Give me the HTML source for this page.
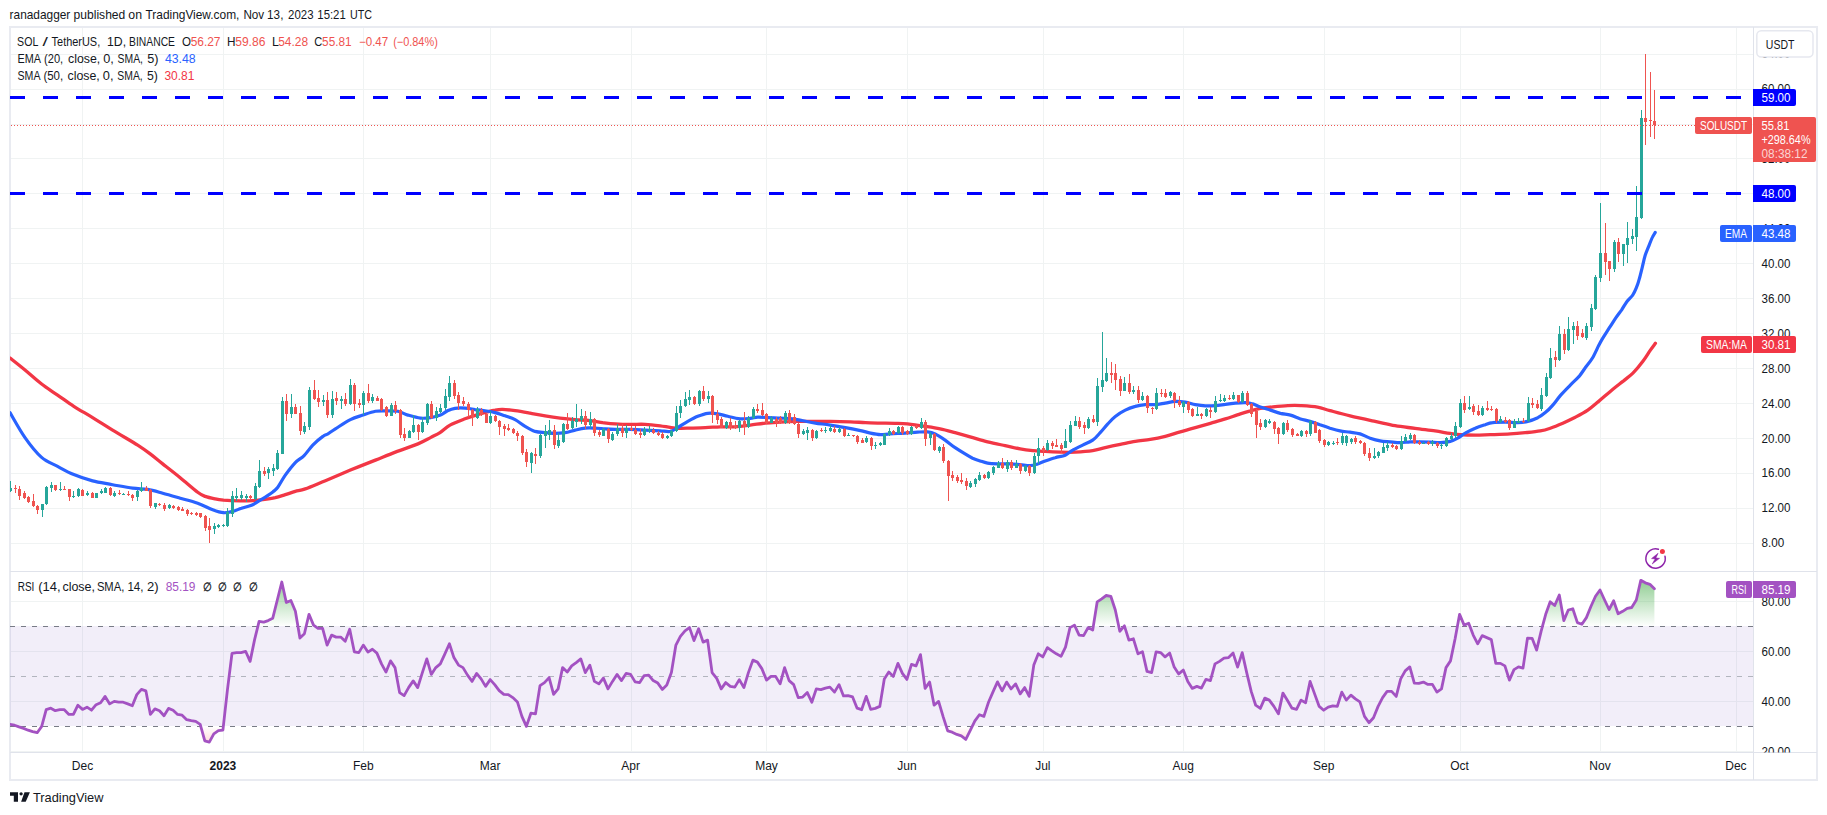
<!DOCTYPE html>
<html><head><meta charset="utf-8"><title>SOL / TetherUS chart</title><style>html,body{margin:0;padding:0;background:#fff}svg{display:block}</style></head><body>
<svg width="1827" height="815" viewBox="0 0 1827 815" font-family="Liberation Sans, Arial, sans-serif">
<defs>
<linearGradient id="gob" gradientUnits="userSpaceOnUse" x1="0" y1="551.5" x2="0" y2="626.5"><stop offset="0" stop-color="#4caf50" stop-opacity="1"/><stop offset="1" stop-color="#4caf50" stop-opacity="0"/></linearGradient>
<linearGradient id="gos" gradientUnits="userSpaceOnUse" x1="0" y1="726.5" x2="0" y2="801.5"><stop offset="0" stop-color="#ff5252" stop-opacity="0"/><stop offset="1" stop-color="#ff5252" stop-opacity="1"/></linearGradient>
<clipPath id="cp"><rect x="10" y="28" width="1743" height="543.5"/></clipPath>
<clipPath id="cr"><rect x="10" y="572.0" width="1743" height="180.0"/></clipPath>
<clipPath id="cax"><rect x="1754" y="28" width="63" height="724.5"/></clipPath>
</defs>
<rect width="1827" height="815" fill="#fff"/>
<text y="19" font-size="13" fill="#131722">
<tspan x="9.6" textLength="60.7" lengthAdjust="spacingAndGlyphs">ranadagger</tspan>
<tspan x="73.6" textLength="51.7" lengthAdjust="spacingAndGlyphs">published</tspan>
<tspan x="128.3" textLength="13.7" lengthAdjust="spacingAndGlyphs">on</tspan>
<tspan x="145.5" textLength="93.9" lengthAdjust="spacingAndGlyphs">TradingView.com,</tspan>
<tspan x="243.4" textLength="20.8" lengthAdjust="spacingAndGlyphs">Nov</tspan>
<tspan x="267.1" textLength="16.3" lengthAdjust="spacingAndGlyphs">13,</tspan>
<tspan x="288.1" textLength="25.4" lengthAdjust="spacingAndGlyphs">2023</tspan>
<tspan x="317.3" textLength="28.5" lengthAdjust="spacingAndGlyphs">15:21</tspan>
<tspan x="350.1" textLength="22.0" lengthAdjust="spacingAndGlyphs">UTC</tspan>
</text>
<g stroke="#f0f3f3" stroke-width="1" shape-rendering="crispEdges">
<line x1="82.5" y1="27" x2="82.5" y2="752.5"/>
<line x1="223.5" y1="27" x2="223.5" y2="752.5"/>
<line x1="363.5" y1="27" x2="363.5" y2="752.5"/>
<line x1="490.5" y1="27" x2="490.5" y2="752.5"/>
<line x1="631.5" y1="27" x2="631.5" y2="752.5"/>
<line x1="766.5" y1="27" x2="766.5" y2="752.5"/>
<line x1="907.5" y1="27" x2="907.5" y2="752.5"/>
<line x1="1043.5" y1="27" x2="1043.5" y2="752.5"/>
<line x1="1183.5" y1="27" x2="1183.5" y2="752.5"/>
<line x1="1324.5" y1="27" x2="1324.5" y2="752.5"/>
<line x1="1460.5" y1="27" x2="1460.5" y2="752.5"/>
<line x1="1600.5" y1="27" x2="1600.5" y2="752.5"/>
<line x1="1736.5" y1="27" x2="1736.5" y2="752.5"/>
<line x1="10" y1="543.5" x2="1753" y2="543.5"/>
<line x1="10" y1="508.5" x2="1753" y2="508.5"/>
<line x1="10" y1="473.5" x2="1753" y2="473.5"/>
<line x1="10" y1="438.5" x2="1753" y2="438.5"/>
<line x1="10" y1="403.5" x2="1753" y2="403.5"/>
<line x1="10" y1="368.5" x2="1753" y2="368.5"/>
<line x1="10" y1="333.5" x2="1753" y2="333.5"/>
<line x1="10" y1="298.5" x2="1753" y2="298.5"/>
<line x1="10" y1="263.5" x2="1753" y2="263.5"/>
<line x1="10" y1="228.5" x2="1753" y2="228.5"/>
<line x1="10" y1="193.5" x2="1753" y2="193.5"/>
<line x1="10" y1="158.5" x2="1753" y2="158.5"/>
<line x1="10" y1="124.5" x2="1753" y2="124.5"/>
<line x1="10" y1="89.5" x2="1753" y2="89.5"/>
<line x1="10" y1="54.5" x2="1753" y2="54.5"/>
<line x1="10" y1="751.5" x2="1753" y2="751.5"/>
<line x1="10" y1="701.5" x2="1753" y2="701.5"/>
<line x1="10" y1="651.5" x2="1753" y2="651.5"/>
<line x1="10" y1="601.5" x2="1753" y2="601.5"/>
</g>
<rect x="10" y="27" width="1807" height="753" fill="none" stroke="#e9ebf1" stroke-width="2" shape-rendering="crispEdges"/>
<g fill="none" stroke="#e0e3eb" shape-rendering="crispEdges">
<line x1="1753.5" y1="27" x2="1753.5" y2="780"/>
<line x1="10" y1="571.5" x2="1817" y2="571.5"/>
<line x1="10" y1="752.5" x2="1817" y2="752.5"/>
</g>
<rect x="10" y="626.0" width="1743" height="100.0" fill="#7e57c2" fill-opacity="0.1"/>
<line x1="10" y1="626.5" x2="1753" y2="626.5" stroke="#787b86" stroke-width="1" stroke-dasharray="5 6" shape-rendering="crispEdges"/>
<line x1="10" y1="676.5" x2="1753" y2="676.5" stroke="#b2b5be" stroke-width="1" stroke-dasharray="5 6" shape-rendering="crispEdges"/>
<line x1="10" y1="726.5" x2="1753" y2="726.5" stroke="#787b86" stroke-width="1" stroke-dasharray="5 6" shape-rendering="crispEdges"/>
<g clip-path="url(#cr)">
<polygon fill="url(#gob)" points="257.9,626.5 259.1,621.3 263.7,622.1 268.2,620.6 272.7,618.3 277.3,600.0 281.8,582.0 286.3,602.5 290.9,600.5 295.4,611.3 298.0,626.5"/>
<polygon fill="url(#gob)" points="306.1,626.5 309.0,614.3 313.5,625.1 315.5,626.5"/>
<polygon fill="url(#gob)" points="1071.9,626.5 1074.5,625.1 1075.2,626.5"/>
<polygon fill="url(#gob)" points="1093.2,626.5 1097.2,601.8 1101.7,598.8 1106.2,595.5 1110.8,596.3 1115.3,610.0 1118.8,626.5"/>
<polygon fill="url(#gob)" points="1123.8,626.5 1124.4,625.8 1124.6,626.5"/>
<polygon fill="url(#gob)" points="1457.3,626.5 1459.6,614.3 1464.1,625.1 1468.7,623.3 1469.9,626.5"/>
<polygon fill="url(#gob)" points="1542.4,626.5 1545.7,614.3 1550.2,601.8 1554.7,605.5 1559.3,595.0 1563.8,620.6 1568.3,610.0 1572.8,608.8 1577.4,622.6 1581.9,624.3 1586.4,617.6 1591.0,606.3 1595.5,596.3 1600.0,590.0 1604.6,600.0 1609.1,609.5 1613.6,600.8 1618.1,613.8 1622.7,611.3 1627.2,608.3 1631.7,607.5 1636.3,600.0 1640.8,580.3 1645.3,582.8 1649.9,584.3 1654.4,588.8 1654.4,626.5"/>
<polygon fill="url(#gos)" points="17.9,726.5 19.0,726.9 23.6,728.4 28.1,730.2 32.6,731.7 37.2,732.7 41.6,726.5"/>
<polygon fill="url(#gos)" points="200.8,726.5 204.8,740.9 209.3,742.2 213.8,733.9 218.4,730.7 222.9,730.2 223.3,726.5"/>
<polygon fill="url(#gos)" points="946.3,726.5 947.7,730.9 952.2,732.2 956.8,734.4 961.3,735.9 965.8,739.4 970.4,730.2 972.2,726.5"/>
<polyline fill="none" stroke="#a352c2" stroke-width="2.8" stroke-linejoin="round" stroke-linecap="round" points="10.0,724.4 14.5,725.2 19.0,726.9 23.6,728.4 28.1,730.2 32.6,731.7 37.2,732.7 41.7,726.4 46.2,709.7 50.8,708.2 55.3,710.7 59.8,709.7 64.3,709.7 68.9,714.4 73.4,714.4 77.9,705.2 82.5,709.4 87.0,707.2 91.5,710.2 96.1,704.7 100.6,702.7 105.1,696.4 109.7,703.9 114.2,701.4 118.7,702.2 123.2,702.2 127.8,703.9 132.3,705.7 136.8,694.6 141.4,689.4 145.9,690.9 150.4,714.4 154.9,708.9 159.5,710.7 164.0,715.7 168.5,708.4 173.1,710.2 177.6,714.4 182.1,715.2 186.7,719.7 191.2,720.7 195.7,721.4 200.2,724.4 204.8,740.9 209.3,742.2 213.8,733.9 218.4,730.7 222.9,730.2 227.4,690.1 232.0,653.3 236.5,652.6 241.0,652.6 245.6,651.3 250.1,661.4 254.6,639.6 259.1,621.3 263.7,622.1 268.2,620.6 272.7,618.3 277.3,600.0 281.8,582.0 286.3,602.5 290.9,600.5 295.4,611.3 299.9,638.1 304.4,633.8 309.0,614.3 313.5,625.1 318.0,628.3 322.6,628.3 327.1,645.1 331.6,635.1 336.1,637.1 340.7,637.1 345.2,641.3 349.7,629.3 354.3,651.8 358.8,652.6 363.3,645.1 367.9,652.1 372.4,649.3 376.9,653.1 381.5,663.9 386.0,672.1 390.5,660.9 395.0,667.6 399.6,692.6 404.1,695.6 408.6,687.6 413.2,680.9 417.7,687.6 422.2,673.1 426.8,658.9 431.3,674.4 435.8,667.6 440.3,663.9 444.9,653.8 449.4,643.8 453.9,657.6 458.5,665.1 463.0,667.6 467.5,675.1 472.1,681.4 476.6,673.4 481.1,678.9 485.6,686.4 490.2,679.6 494.7,684.6 499.2,690.6 503.8,694.4 508.3,694.6 512.8,697.6 517.4,701.9 521.9,716.4 526.4,726.4 530.9,713.2 535.5,713.9 540.0,685.6 544.5,682.6 549.1,677.6 553.6,694.4 558.1,688.9 562.6,667.6 567.2,672.1 571.7,665.9 576.2,662.6 580.8,658.9 585.3,672.6 589.8,665.1 594.4,681.4 598.9,683.9 603.4,678.1 608.0,688.9 612.5,681.4 617.0,674.4 621.5,680.6 626.1,673.4 630.6,674.4 635.1,681.9 639.7,682.6 644.2,675.6 648.7,675.1 653.2,680.6 657.8,683.1 662.3,689.4 666.8,685.1 671.4,672.6 675.9,645.1 680.4,636.3 685.0,630.8 689.5,627.6 694.0,640.6 698.6,628.8 703.1,642.1 707.6,640.1 712.1,672.6 716.7,678.4 721.2,688.9 725.7,682.6 730.3,686.4 734.8,687.1 739.3,679.6 743.9,687.6 748.4,672.6 752.9,660.1 757.4,662.1 762.0,668.9 766.5,680.1 771.0,676.4 775.6,676.4 780.1,683.9 784.6,667.6 789.1,680.6 793.7,684.6 798.2,697.6 802.7,697.1 807.3,692.6 811.8,702.2 816.3,688.9 820.9,689.6 825.4,688.1 829.9,687.1 834.5,692.1 839.0,684.6 843.5,695.9 848.0,695.6 852.6,696.9 857.1,708.2 861.6,709.7 866.2,696.4 870.7,709.4 875.2,708.4 879.8,706.4 884.3,678.9 888.8,672.1 893.3,676.4 897.9,663.4 902.4,673.4 906.9,679.4 911.5,664.4 916.0,665.9 920.5,654.6 925.1,688.4 929.6,682.1 934.1,705.2 938.6,701.4 943.2,716.9 947.7,730.9 952.2,732.2 956.8,734.4 961.3,735.9 965.8,739.4 970.4,730.2 974.9,720.9 979.4,714.7 983.9,716.4 988.5,702.2 993.0,691.9 997.5,681.9 1002.1,690.9 1006.6,682.1 1011.1,688.9 1015.6,683.9 1020.2,693.9 1024.7,687.6 1029.2,696.4 1033.8,665.1 1038.3,653.8 1042.8,656.9 1047.4,647.6 1051.9,650.8 1056.4,653.8 1061.0,656.4 1065.5,647.1 1070.0,627.6 1074.5,625.1 1079.1,635.1 1083.6,635.6 1088.1,627.6 1092.7,630.1 1097.2,601.8 1101.7,598.8 1106.2,595.5 1110.8,596.3 1115.3,610.0 1119.8,631.3 1124.4,625.8 1128.9,640.1 1133.4,638.8 1138.0,653.8 1142.5,651.8 1147.0,671.4 1151.6,672.6 1156.1,651.8 1160.6,652.6 1165.1,656.9 1169.7,653.1 1174.2,667.1 1178.7,673.9 1183.3,670.1 1187.8,681.4 1192.3,688.4 1196.9,686.4 1201.4,688.1 1205.9,679.4 1210.4,680.6 1215.0,663.9 1219.5,661.4 1224.0,658.1 1228.6,657.6 1233.1,653.1 1237.6,667.1 1242.2,652.6 1246.7,672.6 1251.2,691.4 1255.7,705.2 1260.3,708.4 1264.8,698.1 1269.3,700.1 1273.9,706.4 1278.4,713.9 1282.9,693.1 1287.5,700.6 1292.0,708.2 1296.5,709.4 1301.0,700.1 1305.6,702.7 1310.1,681.4 1314.6,693.9 1319.2,706.4 1323.7,710.2 1328.2,707.2 1332.8,705.9 1337.3,706.4 1341.8,692.1 1346.3,700.1 1350.9,695.1 1355.4,698.9 1359.9,701.9 1364.5,716.4 1369.0,722.7 1373.5,717.7 1378.1,706.4 1382.6,697.6 1387.1,691.4 1391.6,691.4 1396.2,696.4 1400.7,678.9 1405.2,670.9 1409.8,666.9 1414.3,683.1 1418.8,683.4 1423.4,682.1 1427.9,684.4 1432.4,684.4 1436.9,692.1 1441.5,688.9 1446.0,667.6 1450.5,660.9 1455.1,638.8 1459.6,614.3 1464.1,625.1 1468.7,623.3 1473.2,635.1 1477.7,643.8 1482.2,635.6 1486.8,637.6 1491.3,639.6 1495.8,663.4 1500.4,663.4 1504.9,665.9 1509.4,680.1 1514.0,669.6 1518.5,666.9 1523.0,668.1 1527.5,638.1 1532.1,638.3 1536.6,650.1 1541.1,631.3 1545.7,614.3 1550.2,601.8 1554.7,605.5 1559.3,595.0 1563.8,620.6 1568.3,610.0 1572.8,608.8 1577.4,622.6 1581.9,624.3 1586.4,617.6 1591.0,606.3 1595.5,596.3 1600.0,590.0 1604.6,600.0 1609.1,609.5 1613.6,600.8 1618.1,613.8 1622.7,611.3 1627.2,608.3 1631.7,607.5 1636.3,600.0 1640.8,580.3 1645.3,582.8 1649.9,584.3 1654.4,588.8"/>
</g>
<g clip-path="url(#cp)" fill="none" stroke-linejoin="round" stroke-linecap="round">
<path stroke="#f23645" stroke-width="3.3" d="M10.0 358.0C12.5 360.0 19.8 365.7 25.0 370.0C30.2 374.3 35.9 379.6 41.3 383.8C46.7 388.0 52.1 391.3 57.6 395.1C63.0 398.8 68.0 402.6 73.8 406.3C79.7 410.1 86.1 413.6 92.6 417.6C99.1 421.5 105.1 425.5 112.6 430.1C120.1 434.7 131.4 441.2 137.7 445.1C143.9 449.1 146.0 450.7 150.2 453.9C154.3 457.0 157.7 459.9 162.7 463.9C167.7 467.8 174.4 472.9 180.2 477.7C186.0 482.4 193.5 489.0 197.7 492.2C201.9 495.3 202.3 495.3 205.2 496.4C208.1 497.5 212.2 498.3 215.2 498.9C218.3 499.6 219.3 499.8 223.5 500.2C227.7 500.5 235.4 500.8 240.3 500.9C245.1 501.0 249.0 500.9 252.8 500.7C256.5 500.5 259.0 500.2 262.8 499.7C266.5 499.2 271.5 498.5 275.3 497.7C279.1 496.8 282.0 495.7 285.3 494.7C288.7 493.6 292.0 492.4 295.3 491.4C298.7 490.5 300.3 490.7 305.3 488.9C310.3 487.1 317.8 483.8 325.4 480.7C332.9 477.5 342.0 473.6 350.4 470.1C358.7 466.7 367.9 463.1 375.4 460.1C382.9 457.1 388.3 454.8 395.4 452.1C402.5 449.4 412.1 446.3 418.0 443.9C423.8 441.4 426.8 439.5 430.5 437.6C434.1 435.7 436.7 434.7 440.0 432.6C443.3 430.5 445.8 427.4 450.0 425.1C454.2 422.8 460.0 420.7 465.0 418.8C470.0 417.0 475.0 415.3 480.0 413.8C485.0 412.4 491.3 410.8 495.1 410.1C498.8 409.3 499.2 409.2 502.6 409.3C505.9 409.4 510.5 410.0 515.1 410.6C519.7 411.2 525.1 412.2 530.1 413.1C535.1 414.0 540.1 415.0 545.1 415.8C550.1 416.7 555.1 417.5 560.1 418.1C565.1 418.7 570.1 419.2 575.1 419.6C580.2 420.0 585.6 420.1 590.2 420.6C594.8 421.1 598.5 422.0 602.7 422.6C606.9 423.1 610.6 423.6 615.2 423.8C619.8 424.1 625.2 424.3 630.2 424.3C635.2 424.4 640.2 424.1 645.2 424.3C650.2 424.6 655.2 425.2 660.2 425.8C665.2 426.5 670.3 427.7 675.3 428.1C680.3 428.5 685.3 428.2 690.3 428.1C695.3 428.0 700.3 427.8 705.3 427.6C710.3 427.4 715.3 427.0 720.3 426.8C725.3 426.7 730.3 427.1 735.3 426.8C740.3 426.6 745.3 425.7 750.3 425.1C755.3 424.5 760.4 423.6 765.4 423.1C770.4 422.6 775.4 422.4 780.4 422.1C785.4 421.8 790.4 421.5 795.4 421.3C800.4 421.2 804.6 421.3 810.4 421.3C816.2 421.3 823.8 421.3 830.4 421.3C837.1 421.4 844.6 421.6 850.5 421.8C856.3 422.0 860.5 422.4 865.5 422.6C870.5 422.8 875.6 423.0 880.5 423.1C885.4 423.2 890.5 423.2 895.0 423.4C899.5 423.5 902.5 423.4 907.5 423.9C912.5 424.4 919.6 425.5 925.0 426.4C930.5 427.2 935.1 427.8 940.1 428.9C945.1 429.9 950.1 431.3 955.1 432.6C960.1 434.0 964.7 435.3 970.1 436.9C975.5 438.4 981.8 440.4 987.6 441.9C993.5 443.4 999.7 444.5 1005.1 445.6C1010.6 446.8 1015.6 448.1 1020.2 448.9C1024.7 449.7 1028.5 450.2 1032.7 450.7C1036.8 451.1 1040.6 451.2 1045.2 451.4C1049.8 451.7 1055.2 452.0 1060.2 452.2C1065.2 452.3 1069.8 452.4 1075.2 452.2C1080.6 451.9 1087.7 451.4 1092.7 450.7C1097.7 449.9 1100.7 448.7 1105.2 447.7C1109.8 446.6 1115.3 445.4 1120.3 444.4C1125.3 443.4 1130.3 442.2 1135.3 441.4C1140.3 440.6 1145.3 440.2 1150.3 439.4C1155.3 438.6 1160.3 437.6 1165.3 436.4C1170.3 435.1 1175.3 433.3 1180.3 431.9C1185.3 430.4 1190.3 429.0 1195.3 427.6C1200.4 426.2 1205.4 424.8 1210.4 423.4C1215.4 421.9 1220.4 420.5 1225.4 418.9C1230.4 417.3 1236.2 415.2 1240.4 413.9C1244.6 412.5 1247.1 411.8 1250.4 410.9C1253.7 409.9 1256.7 409.0 1260.4 408.4C1264.2 407.7 1268.3 407.3 1272.9 406.9C1277.5 406.4 1283.4 405.8 1287.9 405.6C1292.5 405.4 1295.5 405.3 1300.5 405.6C1305.4 405.9 1312.6 406.3 1317.5 407.1C1322.4 408.0 1324.6 409.2 1330.0 410.6C1335.5 412.1 1342.5 414.1 1350.1 415.9C1357.6 417.7 1367.6 419.8 1375.1 421.4C1382.6 423.0 1388.4 424.5 1395.1 425.7C1401.8 426.8 1408.5 427.5 1415.1 428.4C1421.8 429.3 1429.3 430.1 1435.1 430.9C1441.0 431.8 1446.0 432.8 1450.2 433.4C1454.3 434.0 1456.0 434.4 1460.2 434.7C1464.3 435.0 1470.2 435.2 1475.2 435.2C1480.2 435.2 1484.4 434.9 1490.2 434.7C1496.0 434.5 1504.4 434.3 1510.2 433.9C1516.1 433.6 1520.2 433.2 1525.2 432.7C1530.3 432.2 1536.1 431.7 1540.3 430.9C1544.4 430.2 1546.5 429.5 1550.3 428.2C1554.0 426.9 1558.6 425.0 1562.8 423.2C1567.0 421.3 1571.1 419.3 1575.3 417.2C1579.5 415.0 1584.1 412.6 1587.8 410.1C1591.6 407.6 1594.1 405.3 1597.8 402.1C1601.6 399.0 1606.2 394.8 1610.3 391.4C1614.5 387.9 1619.1 384.4 1622.9 381.4C1626.6 378.3 1629.5 376.4 1632.9 373.1C1636.2 369.8 1640.0 365.2 1642.9 361.3C1645.8 357.5 1648.3 353.1 1650.4 350.1C1652.5 347.1 1654.6 344.4 1655.4 343.3"/>
<path stroke="#2962ff" stroke-width="3.2" d="M10.0 412.6C12.5 416.8 19.8 430.2 25.0 437.6C30.2 445.0 35.9 452.3 41.3 457.1C46.7 461.9 52.1 463.5 57.6 466.4C63.0 469.3 68.0 472.2 73.8 474.6C79.7 477.1 86.1 479.2 92.6 480.9C99.1 482.6 105.9 483.4 112.6 484.7C119.3 485.9 126.8 487.4 132.6 488.2C138.5 489.0 142.7 488.6 147.7 489.4C152.7 490.2 157.3 491.7 162.7 493.2C168.1 494.6 174.4 496.5 180.2 498.2C186.0 499.8 192.3 501.3 197.7 503.2C203.1 505.1 208.4 508.1 212.7 509.7C217.0 511.3 220.2 512.4 223.5 512.7C226.8 513.0 229.8 512.2 232.8 511.4C235.8 510.7 238.4 509.2 241.5 508.2C244.6 507.1 248.4 506.5 251.5 505.2C254.7 503.8 256.7 502.4 260.3 500.2C263.8 498.0 269.9 494.1 272.8 491.9C275.7 489.7 275.7 490.0 277.8 487.2C279.9 484.4 282.4 479.2 285.3 475.1C288.2 471.1 292.2 465.9 295.3 462.6C298.5 459.4 301.2 458.5 304.1 455.6C307.0 452.7 309.7 448.3 312.8 445.1C316.0 441.9 320.4 438.2 322.9 436.4C325.4 434.5 325.8 435.1 327.9 433.9C329.9 432.6 331.6 431.2 335.4 428.8C339.1 426.5 345.8 421.9 350.4 419.6C355.0 417.3 358.7 416.5 362.9 415.1C367.1 413.7 371.7 412.0 375.4 411.3C379.2 410.6 381.7 410.8 385.4 410.8C389.2 410.8 394.2 410.6 397.9 411.3C401.7 412.0 404.2 414.0 407.9 415.1C411.7 416.2 416.7 417.7 420.5 418.1C424.2 418.5 427.1 418.1 430.5 417.6C433.8 417.1 437.6 416.2 440.5 415.1C443.3 414.0 445.1 412.0 447.5 410.8C449.9 409.7 452.1 408.8 455.0 408.3C457.9 407.9 461.7 407.9 465.0 408.1C468.4 408.3 471.7 409.1 475.0 409.6C478.4 410.0 481.7 410.3 485.0 410.8C488.4 411.3 491.7 411.7 495.1 412.6C498.4 413.4 501.7 414.7 505.1 415.8C508.4 417.0 511.7 417.8 515.1 419.6C518.4 421.3 521.8 424.4 525.1 426.3C528.4 428.3 531.8 430.3 535.1 431.4C538.4 432.4 541.8 432.3 545.1 432.6C548.5 432.9 551.8 433.4 555.1 433.4C558.5 433.4 561.8 433.1 565.1 432.6C568.5 432.1 571.8 430.8 575.1 430.1C578.5 429.3 581.8 428.4 585.2 428.1C588.5 427.8 591.8 428.0 595.2 428.1C598.5 428.2 601.8 428.6 605.2 428.8C608.5 429.1 611.0 429.3 615.2 429.3C619.4 429.4 625.2 429.2 630.2 429.3C635.2 429.5 640.2 429.8 645.2 430.1C650.2 430.3 656.1 430.6 660.2 430.8C664.4 431.1 667.3 431.9 670.3 431.4C673.2 430.8 674.8 429.3 677.8 427.6C680.7 425.9 684.4 423.2 687.8 421.3C691.1 419.5 694.4 417.7 697.8 416.3C701.1 415.0 704.5 413.7 707.8 413.3C711.1 412.9 714.5 413.3 717.8 413.8C721.1 414.3 724.1 415.5 727.8 416.3C731.6 417.2 736.6 418.5 740.3 418.8C744.1 419.2 747.4 418.6 750.3 418.3C753.3 418.0 754.9 417.2 757.8 417.1C760.8 417.0 764.1 417.4 767.9 417.6C771.6 417.8 776.2 417.9 780.4 418.1C784.5 418.3 789.1 418.4 792.9 418.8C796.6 419.3 799.1 420.1 802.9 420.8C806.7 421.5 810.8 422.4 815.4 423.1C820.0 423.8 825.4 424.3 830.4 425.1C835.4 425.8 840.4 426.7 845.4 427.6C850.5 428.5 856.3 429.7 860.5 430.6C864.6 431.5 867.1 432.4 870.5 433.1C873.8 433.8 877.2 434.5 880.5 434.6C883.7 434.7 885.9 434.1 890.0 433.9C894.1 433.6 900.4 433.4 905.0 433.1C909.6 432.8 913.8 432.3 917.5 432.1C921.3 431.9 924.6 431.6 927.6 431.9C930.5 432.2 932.1 432.5 935.1 433.9C938.0 435.3 941.7 437.8 945.1 440.1C948.4 442.4 951.7 445.4 955.1 447.7C958.4 449.9 962.2 452.2 965.1 453.9C968.0 455.7 970.1 457.0 972.6 458.2C975.1 459.3 977.6 460.1 980.1 460.9C982.6 461.8 984.7 462.7 987.6 463.2C990.5 463.7 993.9 463.8 997.6 463.9C1001.4 464.0 1006.4 463.8 1010.1 463.9C1013.9 464.0 1016.8 464.4 1020.2 464.7C1023.5 465.0 1027.2 465.8 1030.2 465.7C1033.1 465.5 1035.2 464.7 1037.7 463.9C1040.2 463.1 1042.3 462.0 1045.2 460.9C1048.1 459.9 1051.9 458.6 1055.2 457.7C1058.5 456.7 1062.3 456.4 1065.2 455.2C1068.1 453.9 1069.8 451.8 1072.7 450.2C1075.6 448.5 1079.4 446.8 1082.7 445.1C1086.1 443.5 1089.8 442.2 1092.7 440.1C1095.7 438.1 1097.7 435.3 1100.2 432.6C1102.7 429.9 1105.2 426.6 1107.8 423.9C1110.3 421.2 1112.3 418.7 1115.3 416.4C1118.2 414.1 1121.9 411.8 1125.3 410.1C1128.6 408.4 1131.9 407.3 1135.3 406.4C1138.6 405.4 1142.0 404.9 1145.3 404.6C1148.6 404.3 1152.0 404.9 1155.3 404.6C1158.6 404.4 1162.0 403.6 1165.3 403.1C1168.7 402.6 1172.0 401.5 1175.3 401.4C1178.7 401.2 1182.0 401.6 1185.3 402.1C1188.7 402.6 1192.0 404.0 1195.3 404.6C1198.7 405.2 1202.0 405.7 1205.4 405.9C1208.7 406.0 1212.0 405.9 1215.4 405.6C1218.7 405.4 1222.0 404.8 1225.4 404.4C1228.7 403.9 1232.1 403.4 1235.4 403.1C1238.7 402.8 1242.5 402.5 1245.4 402.6C1248.3 402.7 1250.4 403.1 1252.9 403.9C1255.4 404.6 1257.5 406.1 1260.4 407.1C1263.3 408.1 1267.1 409.1 1270.4 410.1C1273.8 411.2 1277.1 412.5 1280.4 413.4C1283.8 414.2 1287.1 414.2 1290.5 415.1C1293.8 416.0 1297.2 417.8 1300.5 418.9C1303.7 419.9 1306.8 420.4 1310.0 421.4C1313.3 422.4 1316.7 423.5 1320.0 424.7C1323.4 425.8 1326.7 427.1 1330.0 428.2C1333.4 429.2 1336.7 430.2 1340.0 430.9C1343.4 431.6 1346.7 431.7 1350.1 432.2C1353.4 432.7 1356.7 432.9 1360.1 433.9C1363.4 434.9 1366.7 437.0 1370.1 438.2C1373.4 439.3 1376.8 440.3 1380.1 440.9C1383.4 441.6 1386.8 441.6 1390.1 441.9C1393.4 442.2 1396.8 442.7 1400.1 442.7C1403.4 442.7 1406.8 442.1 1410.1 441.9C1413.5 441.8 1416.8 441.9 1420.1 441.9C1423.5 442.0 1426.8 442.1 1430.1 442.2C1433.5 442.3 1436.8 442.8 1440.2 442.7C1443.5 442.6 1447.2 442.2 1450.2 441.4C1453.1 440.7 1455.2 439.6 1457.7 438.2C1460.2 436.8 1462.3 434.8 1465.2 433.2C1468.1 431.5 1471.9 429.6 1475.2 428.2C1478.5 426.7 1482.3 425.6 1485.2 424.7C1488.1 423.7 1489.4 423.1 1492.7 422.7C1496.0 422.2 1501.1 422.2 1505.2 422.2C1509.4 422.2 1514.0 422.8 1517.7 422.7C1521.5 422.5 1524.4 422.2 1527.8 421.4C1531.1 420.6 1534.8 419.1 1537.8 417.7C1540.7 416.2 1542.8 414.7 1545.3 412.6C1547.8 410.6 1550.3 408.0 1552.8 405.1C1555.3 402.3 1557.4 399.0 1560.3 395.6C1563.2 392.3 1567.2 388.3 1570.3 385.1C1573.4 381.9 1576.5 379.3 1579.1 376.4C1581.6 373.4 1583.4 370.3 1585.6 367.3C1587.8 364.3 1590.1 362.0 1592.3 358.3C1594.5 354.7 1597.1 348.6 1598.8 345.3C1600.5 342.0 1600.8 341.4 1602.5 338.6C1604.2 335.7 1606.9 331.7 1609.1 328.2C1611.4 324.8 1613.7 321.0 1615.8 317.9C1617.9 314.9 1619.8 312.5 1621.7 309.8C1623.5 307.1 1625.0 304.2 1626.8 301.7C1628.7 299.3 1631.1 297.4 1632.7 295.1C1634.3 292.8 1635.3 290.4 1636.4 287.7C1637.5 285.0 1638.4 282.3 1639.3 278.9C1640.3 275.5 1641.3 271.1 1642.3 267.1C1643.3 263.2 1644.1 258.9 1645.2 255.3C1646.3 251.8 1647.7 248.8 1648.9 245.8C1650.1 242.7 1651.5 239.1 1652.6 236.9C1653.6 234.7 1654.8 233.3 1655.2 232.5"/>
</g>
<g clip-path="url(#cp)" shape-rendering="crispEdges">
<path fill="#26a69a" d="M10 481h1V492h-1zM9 488h3V491h-3zM42 504h1V517h-1zM41 504h3V510h-3zM46 486h1V505h-1zM45 487h3V504h-3zM51 482h1V492h-1zM50 485h3V488h-3zM60 482h1V491h-1zM59 489h3V490h-3zM73 491h1V498h-1zM72 496h3V497h-3zM78 488h1V497h-1zM77 489h3V496h-3zM87 491h1V496h-1zM86 493h3V495h-3zM96 493h1V498h-1zM95 493h3V498h-3zM101 489h1V494h-1zM100 491h3V493h-3zM105 487h1V493h-1zM104 488h3V493h-3zM114 491h1V497h-1zM113 493h3V496h-3zM123 493h1V495h-1zM122 494h3V495h-3zM137 490h1V501h-1zM136 491h3V497h-3zM141 482h1V492h-1zM140 488h3V491h-3zM155 503h1V509h-1zM154 503h3V507h-3zM169 504h1V509h-1zM168 505h3V508h-3zM214 523h1V534h-1zM213 526h3V529h-3zM218 524h1V528h-1zM217 525h3V527h-3zM223 524h1V527h-1zM222 525h3V526h-3zM227 508h1V527h-1zM226 512h3V526h-3zM232 491h1V517h-1zM231 496h3V514h-3zM236 488h1V501h-1zM235 496h3V498h-3zM241 491h1V500h-1zM240 495h3V498h-3zM246 494h1V502h-1zM245 496h3V498h-3zM255 483h1V500h-1zM254 486h3V499h-3zM259 460h1V488h-1zM258 471h3V487h-3zM268 467h1V479h-1zM267 469h3V473h-3zM273 464h1V476h-1zM272 468h3V471h-3zM277 450h1V470h-1zM276 453h3V469h-3zM282 397h1V454h-1zM281 401h3V454h-3zM291 394h1V418h-1zM290 407h3V414h-3zM304 422h1V434h-1zM303 426h3V432h-3zM309 387h1V430h-1zM308 390h3V427h-3zM323 395h1V406h-1zM322 400h3V402h-3zM332 391h1V418h-1zM331 399h3V415h-3zM341 396h1V409h-1zM340 399h3V401h-3zM350 379h1V405h-1zM349 385h3V404h-3zM363 391h1V415h-1zM362 393h3V405h-3zM372 394h1V403h-1zM371 397h3V401h-3zM391 403h1V416h-1zM390 405h3V416h-3zM409 430h1V438h-1zM408 431h3V438h-3zM413 415h1V433h-1zM412 425h3V432h-3zM422 417h1V433h-1zM421 422h3V432h-3zM427 403h1V425h-1zM426 404h3V423h-3zM436 407h1V421h-1zM435 411h3V418h-3zM440 404h1V413h-1zM439 408h3V412h-3zM445 389h1V410h-1zM444 396h3V408h-3zM449 376h1V401h-1zM448 383h3V397h-3zM477 407h1V419h-1zM476 409h3V418h-3zM490 411h1V424h-1zM489 416h3V423h-3zM531 452h1V473h-1zM530 453h3V463h-3zM540 434h1V458h-1zM539 435h3V456h-3zM545 425h1V448h-1zM544 431h3V436h-3zM549 420h1V440h-1zM548 430h3V435h-3zM558 433h1V448h-1zM557 440h3V446h-3zM563 423h1V443h-1zM562 424h3V442h-3zM572 417h1V429h-1zM571 421h3V428h-3zM576 404h1V427h-1zM575 419h3V422h-3zM581 409h1V424h-1zM580 416h3V420h-3zM590 412h1V428h-1zM589 419h3V425h-3zM603 428h1V436h-1zM602 429h3V436h-3zM612 432h1V441h-1zM611 434h3V440h-3zM617 424h1V436h-1zM616 428h3V434h-3zM626 425h1V438h-1zM625 428h3V433h-3zM644 427h1V436h-1zM643 429h3V435h-3zM649 426h1V433h-1zM648 429h3V431h-3zM667 435h1V439h-1zM666 436h3V438h-3zM671 430h1V437h-1zM670 431h3V436h-3zM676 406h1V432h-1zM675 413h3V431h-3zM680 400h1V418h-1zM679 406h3V413h-3zM685 392h1V407h-1zM684 399h3V406h-3zM689 390h1V405h-1zM688 397h3V400h-3zM699 390h1V406h-1zM698 391h3V404h-3zM708 391h1V403h-1zM707 396h3V399h-3zM726 421h1V429h-1zM725 422h3V428h-3zM739 420h1V432h-1zM738 421h3V428h-3zM748 416h1V428h-1zM747 418h3V427h-3zM753 407h1V419h-1zM752 409h3V418h-3zM771 416h1V423h-1zM770 418h3V423h-3zM785 411h1V424h-1zM784 413h3V423h-3zM803 429h1V435h-1zM802 431h3V434h-3zM807 427h1V440h-1zM806 430h3V433h-3zM816 430h1V439h-1zM815 431h3V438h-3zM825 427h1V433h-1zM824 430h3V431h-3zM830 425h1V432h-1zM829 428h3V431h-3zM839 427h1V433h-1zM838 429h3V432h-3zM848 433h1V436h-1zM847 435h3V436h-3zM866 436h1V443h-1zM865 438h3V442h-3zM875 442h1V449h-1zM874 445h3V446h-3zM880 442h1V446h-1zM879 443h3V445h-3zM884 433h1V445h-1zM883 434h3V445h-3zM889 428h1V436h-1zM888 431h3V435h-3zM898 426h1V434h-1zM897 427h3V433h-3zM911 426h1V435h-1zM910 427h3V434h-3zM921 418h1V429h-1zM920 422h3V428h-3zM930 432h1V445h-1zM929 434h3V438h-3zM939 446h1V453h-1zM938 447h3V451h-3zM970 481h1V488h-1zM969 483h3V487h-3zM975 478h1V487h-1zM974 479h3V484h-3zM979 472h1V481h-1zM978 475h3V480h-3zM988 471h1V479h-1zM987 472h3V478h-3zM993 466h1V475h-1zM992 467h3V473h-3zM998 461h1V468h-1zM997 463h3V468h-3zM1007 460h1V472h-1zM1006 462h3V469h-3zM1016 460h1V468h-1zM1015 464h3V468h-3zM1025 465h1V472h-1zM1024 466h3V471h-3zM1034 453h1V474h-1zM1033 456h3V473h-3zM1038 438h1V464h-1zM1037 448h3V456h-3zM1047 440h1V451h-1zM1046 443h3V450h-3zM1065 429h1V448h-1zM1064 441h3V448h-3zM1070 421h1V443h-1zM1069 425h3V442h-3zM1075 416h1V426h-1zM1074 421h3V426h-3zM1088 417h1V429h-1zM1087 419h3V428h-3zM1097 378h1V426h-1zM1096 386h3V422h-3zM1102 332h1V392h-1zM1101 380h3V387h-3zM1106 358h1V382h-1zM1105 373h3V381h-3zM1124 377h1V391h-1zM1123 383h3V391h-3zM1133 386h1V394h-1zM1132 390h3V392h-3zM1142 392h1V401h-1zM1141 396h3V400h-3zM1156 388h1V410h-1zM1155 393h3V409h-3zM1170 391h1V398h-1zM1169 392h3V396h-3zM1183 401h1V413h-1zM1182 402h3V407h-3zM1197 407h1V416h-1zM1196 414h3V416h-3zM1206 408h1V417h-1zM1205 409h3V416h-3zM1215 396h1V413h-1zM1214 401h3V412h-3zM1220 394h1V402h-1zM1219 400h3V401h-3zM1224 395h1V402h-1zM1223 398h3V401h-3zM1233 392h1V400h-1zM1232 395h3V399h-3zM1242 391h1V403h-1zM1241 393h3V402h-3zM1265 419h1V428h-1zM1264 420h3V427h-3zM1269 419h1V424h-1zM1268 421h3V423h-3zM1283 422h1V435h-1zM1282 423h3V434h-3zM1301 430h1V437h-1zM1300 431h3V436h-3zM1310 420h1V436h-1zM1309 421h3V434h-3zM1328 441h1V446h-1zM1327 442h3V445h-3zM1333 441h1V445h-1zM1332 443h3V444h-3zM1342 433h1V445h-1zM1341 436h3V443h-3zM1346 435h1V446h-1zM1345 436h3V443h-3zM1351 438h1V444h-1zM1350 439h3V442h-3zM1374 448h1V459h-1zM1373 456h3V458h-3zM1378 451h1V458h-1zM1377 452h3V456h-3zM1383 443h1V453h-1zM1382 447h3V453h-3zM1387 442h1V451h-1zM1386 445h3V448h-3zM1401 436h1V450h-1zM1400 441h3V449h-3zM1405 434h1V442h-1zM1404 437h3V441h-3zM1410 433h1V440h-1zM1409 435h3V439h-3zM1423 442h1V444h-1zM1422 443h3V444h-3zM1432 440h1V446h-1zM1431 442h3V444h-3zM1441 443h1V449h-1zM1440 445h3V446h-3zM1446 437h1V447h-1zM1445 438h3V446h-3zM1451 433h1V440h-1zM1450 436h3V439h-3zM1455 422h1V438h-1zM1454 426h3V436h-3zM1460 399h1V428h-1zM1459 403h3V427h-3zM1469 396h1V410h-1zM1468 407h3V409h-3zM1482 406h1V416h-1zM1481 408h3V415h-3zM1500 416h1V423h-1zM1499 419h3V422h-3zM1514 419h1V428h-1zM1513 421h3V428h-3zM1518 418h1V423h-1zM1517 421h3V423h-3zM1528 397h1V422h-1zM1527 403h3V421h-3zM1541 388h1V411h-1zM1540 395h3V409h-3zM1546 373h1V397h-1zM1545 377h3V396h-3zM1550 348h1V379h-1zM1549 358h3V378h-3zM1559 326h1V361h-1zM1558 334h3V360h-3zM1568 317h1V351h-1zM1567 329h3V350h-3zM1573 322h1V344h-1zM1572 326h3V330h-3zM1586 323h1V340h-1zM1585 326h3V338h-3zM1591 304h1V331h-1zM1590 308h3V327h-3zM1595 275h1V310h-1zM1594 277h3V309h-3zM1600 203h1V282h-1zM1599 253h3V278h-3zM1614 240h1V272h-1zM1613 242h3V269h-3zM1623 244h1V266h-1zM1622 244h3V254h-3zM1627 222h1V263h-1zM1626 238h3V245h-3zM1632 229h1V244h-1zM1631 236h3V239h-3zM1636 186h1V251h-1zM1635 217h3V237h-3zM1641 110h1V219h-1zM1640 118h3V218h-3z"/>
<path fill="#ef5350" d="M15 485h1V493h-1zM14 488h3V489h-3zM19 486h1V500h-1zM18 489h3V496h-3zM24 491h1V499h-1zM23 493h3V498h-3zM28 496h1V503h-1zM27 497h3V502h-3zM33 494h1V507h-1zM32 501h3V506h-3zM37 505h1V514h-1zM36 506h3V510h-3zM55 485h1V491h-1zM54 485h3V490h-3zM64 486h1V490h-1zM63 489h3V490h-3zM69 489h1V501h-1zM68 489h3V497h-3zM82 489h1V496h-1zM81 490h3V496h-3zM92 492h1V498h-1zM91 493h3V498h-3zM110 487h1V496h-1zM109 488h3V495h-3zM119 490h1V495h-1zM118 493h3V494h-3zM128 491h1V496h-1zM127 494h3V495h-3zM132 494h1V501h-1zM131 495h3V498h-3zM146 486h1V491h-1zM145 488h3V491h-3zM150 489h1V508h-1zM149 490h3V506h-3zM159 503h1V506h-1zM158 504h3V505h-3zM164 503h1V511h-1zM163 505h3V509h-3zM173 505h1V509h-1zM172 506h3V508h-3zM178 506h1V511h-1zM177 507h3V510h-3zM182 507h1V511h-1zM181 509h3V511h-3zM187 509h1V516h-1zM186 510h3V514h-3zM191 512h1V515h-1zM190 513h3V514h-3zM196 512h1V516h-1zM195 513h3V515h-3zM200 513h1V518h-1zM199 513h3V517h-3zM205 515h1V531h-1zM204 516h3V528h-3zM209 518h1V543h-1zM208 526h3V530h-3zM250 495h1V499h-1zM249 496h3V498h-3zM264 467h1V476h-1zM263 471h3V474h-3zM286 394h1V421h-1zM285 401h3V414h-3zM295 404h1V414h-1zM294 407h3V414h-3zM300 406h1V435h-1zM299 413h3V431h-3zM314 380h1V400h-1zM313 390h3V399h-3zM318 390h1V407h-1zM317 398h3V402h-3zM327 392h1V418h-1zM326 400h3V415h-3zM336 392h1V405h-1zM335 398h3V401h-3zM345 393h1V406h-1zM344 399h3V404h-3zM354 383h1V411h-1zM353 385h3V404h-3zM359 399h1V408h-1zM358 403h3V405h-3zM368 384h1V403h-1zM367 393h3V401h-3zM377 396h1V401h-1zM376 398h3V401h-3zM381 398h1V411h-1zM380 399h3V410h-3zM386 406h1V417h-1zM385 407h3V416h-3zM395 401h1V414h-1zM394 405h3V411h-3zM400 409h1V438h-1zM399 410h3V435h-3zM404 428h1V441h-1zM403 434h3V438h-3zM418 424h1V440h-1zM417 425h3V432h-3zM431 401h1V419h-1zM430 404h3V418h-3zM454 380h1V399h-1zM453 383h3V396h-3zM458 392h1V410h-1zM457 395h3V403h-3zM463 397h1V406h-1zM462 401h3V404h-3zM468 402h1V417h-1zM467 404h3V410h-3zM472 409h1V426h-1zM471 410h3V417h-3zM481 408h1V416h-1zM480 410h3V415h-3zM486 413h1V423h-1zM485 414h3V423h-3zM495 415h1V422h-1zM494 416h3V421h-3zM499 420h1V435h-1zM498 421h3V427h-3zM504 424h1V436h-1zM503 426h3V429h-3zM508 424h1V431h-1zM507 428h3V430h-3zM513 428h1V434h-1zM512 429h3V433h-3zM517 431h1V441h-1zM516 433h3V436h-3zM522 435h1V455h-1zM521 436h3V453h-3zM526 449h1V467h-1zM525 452h3V462h-3zM535 448h1V464h-1zM534 454h3V456h-3zM554 425h1V449h-1zM553 430h3V445h-3zM567 413h1V430h-1zM566 424h3V429h-3zM585 411h1V429h-1zM584 416h3V425h-3zM594 418h1V436h-1zM593 419h3V433h-3zM599 430h1V437h-1zM598 432h3V435h-3zM608 428h1V443h-1zM607 429h3V439h-3zM622 424h1V437h-1zM621 428h3V433h-3zM631 426h1V431h-1zM630 428h3V430h-3zM635 426h1V435h-1zM634 430h3V434h-3zM640 429h1V438h-1zM639 433h3V435h-3zM653 428h1V434h-1zM652 430h3V433h-3zM658 431h1V436h-1zM657 433h3V435h-3zM662 432h1V439h-1zM661 434h3V438h-3zM694 396h1V405h-1zM693 397h3V404h-3zM703 386h1V401h-1zM702 391h3V399h-3zM712 395h1V423h-1zM711 396h3V415h-3zM717 410h1V424h-1zM716 414h3V420h-3zM721 417h1V428h-1zM720 419h3V428h-3zM730 418h1V430h-1zM729 422h3V428h-3zM735 421h1V429h-1zM734 426h3V428h-3zM744 412h1V435h-1zM743 421h3V427h-3zM757 404h1V413h-1zM756 409h3V411h-3zM762 403h1V416h-1zM761 410h3V415h-3zM766 413h1V424h-1zM765 414h3V423h-3zM776 417h1V427h-1zM775 419h3V423h-3zM780 416h1V424h-1zM779 418h3V423h-3zM789 410h1V424h-1zM788 413h3V423h-3zM794 414h1V425h-1zM793 417h3V424h-3zM798 423h1V438h-1zM797 424h3V434h-3zM812 429h1V441h-1zM811 430h3V438h-3zM821 428h1V432h-1zM820 430h3V431h-3zM834 426h1V433h-1zM833 429h3V432h-3zM844 428h1V437h-1zM843 429h3V436h-3zM853 435h1V437h-1zM852 435h3V436h-3zM857 435h1V444h-1zM856 436h3V442h-3zM862 438h1V443h-1zM861 440h3V443h-3zM871 437h1V450h-1zM870 438h3V446h-3zM893 430h1V435h-1zM892 431h3V434h-3zM902 426h1V435h-1zM901 427h3V433h-3zM907 430h1V435h-1zM906 431h3V434h-3zM916 425h1V429h-1zM915 426h3V428h-3zM925 420h1V446h-1zM924 422h3V439h-3zM934 433h1V451h-1zM933 434h3V450h-3zM943 444h1V463h-1zM942 447h3V461h-3zM948 460h1V501h-1zM947 461h3V476h-3zM952 471h1V481h-1zM951 475h3V478h-3zM957 475h1V483h-1zM956 477h3V481h-3zM961 473h1V484h-1zM960 480h3V482h-3zM966 478h1V490h-1zM965 481h3V486h-3zM984 474h1V479h-1zM983 475h3V478h-3zM1002 458h1V469h-1zM1001 463h3V468h-3zM1011 460h1V470h-1zM1010 462h3V468h-3zM1020 463h1V474h-1zM1019 464h3V471h-3zM1029 465h1V476h-1zM1028 466h3V473h-3zM1043 446h1V456h-1zM1042 448h3V451h-3zM1052 441h1V449h-1zM1051 443h3V446h-3zM1056 439h1V447h-1zM1055 445h3V447h-3zM1061 443h1V453h-1zM1060 445h3V449h-3zM1079 417h1V429h-1zM1078 421h3V427h-3zM1084 422h1V434h-1zM1083 425h3V428h-3zM1093 415h1V423h-1zM1092 419h3V422h-3zM1111 362h1V383h-1zM1110 373h3V375h-3zM1115 364h1V390h-1zM1114 373h3V380h-3zM1120 376h1V396h-1zM1119 379h3V391h-3zM1129 374h1V394h-1zM1128 383h3V392h-3zM1138 386h1V403h-1zM1137 390h3V400h-3zM1147 395h1V413h-1zM1146 396h3V408h-3zM1152 407h1V414h-1zM1151 408h3V409h-3zM1161 389h1V397h-1zM1160 393h3V394h-3zM1165 389h1V398h-1zM1164 393h3V397h-3zM1174 392h1V408h-1zM1173 393h3V401h-3zM1179 396h1V407h-1zM1178 401h3V405h-3zM1188 401h1V413h-1zM1187 402h3V410h-3zM1192 408h1V417h-1zM1191 409h3V416h-3zM1201 413h1V419h-1zM1200 414h3V416h-3zM1210 407h1V418h-1zM1209 410h3V412h-3zM1229 395h1V400h-1zM1228 398h3V399h-3zM1238 395h1V403h-1zM1237 395h3V402h-3zM1247 391h1V406h-1zM1246 393h3V405h-3zM1251 403h1V417h-1zM1250 404h3V414h-3zM1256 409h1V438h-1zM1255 411h3V425h-3zM1260 419h1V430h-1zM1259 423h3V427h-3zM1274 421h1V434h-1zM1273 422h3V429h-3zM1278 427h1V444h-1zM1277 428h3V434h-3zM1287 420h1V432h-1zM1286 423h3V430h-3zM1292 428h1V437h-1zM1291 429h3V435h-3zM1297 433h1V436h-1zM1296 434h3V436h-3zM1306 430h1V437h-1zM1305 431h3V434h-3zM1315 421h1V433h-1zM1314 422h3V433h-3zM1319 429h1V443h-1zM1318 430h3V441h-3zM1324 439h1V447h-1zM1323 440h3V445h-3zM1337 438h1V445h-1zM1336 442h3V443h-3zM1355 436h1V444h-1zM1354 438h3V442h-3zM1360 440h1V444h-1zM1359 441h3V443h-3zM1364 442h1V456h-1zM1363 443h3V454h-3zM1369 448h1V461h-1zM1368 453h3V458h-3zM1392 443h1V448h-1zM1391 445h3V447h-3zM1396 445h1V450h-1zM1395 446h3V449h-3zM1414 434h1V444h-1zM1413 435h3V443h-3zM1419 440h1V445h-1zM1418 442h3V444h-3zM1428 441h1V445h-1zM1427 442h3V444h-3zM1437 442h1V448h-1zM1436 443h3V446h-3zM1464 396h1V413h-1zM1463 403h3V410h-3zM1473 404h1V415h-1zM1472 406h3V412h-3zM1478 405h1V416h-1zM1477 411h3V415h-3zM1487 401h1V411h-1zM1486 408h3V410h-3zM1491 406h1V411h-1zM1490 409h3V410h-3zM1496 408h1V423h-1zM1495 409h3V421h-3zM1505 417h1V423h-1zM1504 420h3V422h-3zM1509 419h1V430h-1zM1508 420h3V428h-3zM1523 418h1V423h-1zM1522 421h3V422h-3zM1532 398h1V408h-1zM1531 403h3V405h-3zM1537 400h1V409h-1zM1536 404h3V408h-3zM1555 351h1V367h-1zM1554 357h3V360h-3zM1564 329h1V354h-1zM1563 334h3V350h-3zM1577 321h1V340h-1zM1576 326h3V336h-3zM1582 329h1V338h-1zM1581 333h3V337h-3zM1605 223h1V275h-1zM1604 253h3V262h-3zM1609 261h1V281h-1zM1608 261h3V269h-3zM1618 238h1V262h-1zM1617 242h3V254h-3zM1645 54h1V145h-1zM1644 118h3V122h-3zM1650 72h1V137h-1zM1649 120h3V121h-3zM1654 90h1V139h-1zM1653 121h3V125h-3z"/>
</g>
<line x1="10" y1="97.5" x2="1753" y2="97.5" stroke="#0000ff" stroke-width="3.2" stroke-dasharray="15 18"/>
<line x1="10" y1="193.5" x2="1753" y2="193.5" stroke="#0000ff" stroke-width="3.2" stroke-dasharray="15 18"/>
<line x1="11" y1="125.5" x2="1753" y2="125.5" stroke="#ef5350" stroke-width="1" stroke-dasharray="1 2" shape-rendering="crispEdges"/>
<g clip-path="url(#cax)" font-size="12" fill="#131722">
<text x="1761.5" y="547" textLength="22.7" lengthAdjust="spacingAndGlyphs">8.00</text>
<text x="1761.5" y="512" textLength="29" lengthAdjust="spacingAndGlyphs">12.00</text>
<text x="1761.5" y="477" textLength="29" lengthAdjust="spacingAndGlyphs">16.00</text>
<text x="1761.5" y="443" textLength="29" lengthAdjust="spacingAndGlyphs">20.00</text>
<text x="1761.5" y="408" textLength="29" lengthAdjust="spacingAndGlyphs">24.00</text>
<text x="1761.5" y="373" textLength="29" lengthAdjust="spacingAndGlyphs">28.00</text>
<text x="1761.5" y="338" textLength="29" lengthAdjust="spacingAndGlyphs">32.00</text>
<text x="1761.5" y="303" textLength="29" lengthAdjust="spacingAndGlyphs">36.00</text>
<text x="1761.5" y="268" textLength="29" lengthAdjust="spacingAndGlyphs">40.00</text>
<text x="1761.5" y="233" textLength="29" lengthAdjust="spacingAndGlyphs">44.00</text>
<text x="1761.5" y="198" textLength="29" lengthAdjust="spacingAndGlyphs">48.00</text>
<text x="1761.5" y="163" textLength="29" lengthAdjust="spacingAndGlyphs">52.00</text>
<text x="1761.5" y="129" textLength="29" lengthAdjust="spacingAndGlyphs">56.00</text>
<text x="1761.5" y="93" textLength="29" lengthAdjust="spacingAndGlyphs">60.00</text>
<text x="1761.5" y="58" textLength="29" lengthAdjust="spacingAndGlyphs">64.00</text>
<text x="1761.5" y="756" textLength="29" lengthAdjust="spacingAndGlyphs">20.00</text>
<text x="1761.5" y="706" textLength="29" lengthAdjust="spacingAndGlyphs">40.00</text>
<text x="1761.5" y="656" textLength="29" lengthAdjust="spacingAndGlyphs">60.00</text>
<text x="1761.5" y="606" textLength="29" lengthAdjust="spacingAndGlyphs">80.00</text>
</g>
<rect x="1756.8" y="30.8" width="56.2" height="26.2" rx="4.5" fill="#fff" stroke="#e6e8ef" stroke-width="1.5"/>
<text x="1765.8" y="48.8" font-size="12" fill="#131722" textLength="28.6" lengthAdjust="spacingAndGlyphs">USDT</text>
<path fill="#0000ff" d="M1753 89h41a2 2 0 0 1 2 2v13a2 2 0 0 1 -2 2h-41z"/>
<text x="1761.5" y="101.8" font-size="12" fill="#fff" textLength="29" lengthAdjust="spacingAndGlyphs">59.00</text>
<path fill="#0000ff" d="M1753 185h41a2 2 0 0 1 2 2v13a2 2 0 0 1 -2 2h-41z"/>
<text x="1761.5" y="197.8" font-size="12" fill="#fff" textLength="29" lengthAdjust="spacingAndGlyphs">48.00</text>
<path fill="#2962ff" d="M1753 225h41a2 2 0 0 1 2 2v13a2 2 0 0 1 -2 2h-41z"/>
<text x="1761.5" y="237.8" font-size="12" fill="#fff" textLength="29" lengthAdjust="spacingAndGlyphs">43.48</text>
<rect x="1720" y="225" width="32" height="17" rx="2" fill="#2962ff"/>
<text x="1736.0" y="237.8" font-size="12" fill="#fff" text-anchor="middle" textLength="22" lengthAdjust="spacingAndGlyphs">EMA</text>
<path fill="#f23645" d="M1753 336h41a2 2 0 0 1 2 2v13a2 2 0 0 1 -2 2h-41z"/>
<text x="1761.5" y="348.8" font-size="12" fill="#fff" textLength="29" lengthAdjust="spacingAndGlyphs">30.81</text>
<rect x="1701" y="336" width="51" height="17" rx="2" fill="#f23645"/>
<text x="1726.5" y="348.8" font-size="12" fill="#fff" text-anchor="middle" textLength="41" lengthAdjust="spacingAndGlyphs">SMA:MA</text>
<path fill="#a352c2" d="M1753 581h41a2 2 0 0 1 2 2v13a2 2 0 0 1 -2 2h-41z"/>
<text x="1761.5" y="593.8" font-size="12" fill="#fff" textLength="29" lengthAdjust="spacingAndGlyphs">85.19</text>
<rect x="1726" y="581" width="26" height="17" rx="2" fill="#a352c2"/>
<text x="1739.0" y="593.8" font-size="12" fill="#fff" text-anchor="middle" textLength="15" lengthAdjust="spacingAndGlyphs">RSI</text>
<rect x="1695" y="117" width="57" height="17" rx="2" fill="#ef5350"/>
<text x="1723.5" y="129.8" font-size="12" fill="#fff" text-anchor="middle" textLength="47" lengthAdjust="spacingAndGlyphs">SOLUSDT</text>
<path fill="#ef5350" d="M1753 117h61a2 2 0 0 1 2 2v41a2 2 0 0 1 -2 2h-61z"/>
<text x="1761.5" y="129.8" font-size="12" fill="#fff" textLength="28" lengthAdjust="spacingAndGlyphs">55.81</text>
<text x="1761.5" y="143.8" font-size="12" fill="#fff" textLength="49" lengthAdjust="spacingAndGlyphs">+298.64%</text>
<text x="1761.5" y="157.6" font-size="12" fill="#fff" fill-opacity="0.75" textLength="46" lengthAdjust="spacingAndGlyphs">08:38:12</text>
<text y="45.7" font-size="12">
<tspan x="17.1" fill="#131722" textLength="20.8" lengthAdjust="spacingAndGlyphs">SOL</tspan>
<tspan x="42.4" fill="#131722" textLength="5.4" lengthAdjust="spacingAndGlyphs">/</tspan>
<tspan x="51.6" fill="#131722" textLength="48.6" lengthAdjust="spacingAndGlyphs">TetherUS,</tspan>
<tspan x="107.0" fill="#131722" textLength="19.1" lengthAdjust="spacingAndGlyphs">1D,</tspan>
<tspan x="129.1" fill="#131722" textLength="45.9" lengthAdjust="spacingAndGlyphs">BINANCE</tspan>
<tspan x="182.0" fill="#131722" textLength="9.0" lengthAdjust="spacingAndGlyphs">O</tspan>
<tspan x="190.7" fill="#ef5350" textLength="29.8" lengthAdjust="spacingAndGlyphs">56.27</tspan>
<tspan x="227.0" fill="#131722" textLength="8.5" lengthAdjust="spacingAndGlyphs">H</tspan>
<tspan x="235.2" fill="#ef5350" textLength="30.2" lengthAdjust="spacingAndGlyphs">59.86</tspan>
<tspan x="272.1" fill="#131722" textLength="6.4" lengthAdjust="spacingAndGlyphs">L</tspan>
<tspan x="278.2" fill="#ef5350" textLength="29.9" lengthAdjust="spacingAndGlyphs">54.28</tspan>
<tspan x="314.3" fill="#131722" textLength="8.0" lengthAdjust="spacingAndGlyphs">C</tspan>
<tspan x="322.1" fill="#ef5350" textLength="29.5" lengthAdjust="spacingAndGlyphs">55.81</tspan>
<tspan x="359.0" fill="#ef5350" textLength="29.2" lengthAdjust="spacingAndGlyphs">−0.47</tspan>
<tspan x="393.2" fill="#ef5350" textLength="44.6" lengthAdjust="spacingAndGlyphs">(−0.84%)</tspan>
</text>
<text y="62.7" font-size="12">
<tspan x="17.5" fill="#131722" textLength="22.9" lengthAdjust="spacingAndGlyphs">EMA</tspan>
<tspan x="44.1" fill="#131722" textLength="19.1" lengthAdjust="spacingAndGlyphs">(20,</tspan>
<tspan x="68.0" fill="#131722" textLength="32.2" lengthAdjust="spacingAndGlyphs">close,</tspan>
<tspan x="103.2" fill="#131722" textLength="10.6" lengthAdjust="spacingAndGlyphs">0,</tspan>
<tspan x="117.6" fill="#131722" textLength="25.4" lengthAdjust="spacingAndGlyphs">SMA,</tspan>
<tspan x="147.2" fill="#131722" textLength="11.3" lengthAdjust="spacingAndGlyphs">5)</tspan>
<tspan x="164.9" fill="#2962ff" textLength="30.7" lengthAdjust="spacingAndGlyphs">43.48</tspan>
</text>
<text y="80" font-size="12">
<tspan x="17.5" fill="#131722" textLength="22.4" lengthAdjust="spacingAndGlyphs">SMA</tspan>
<tspan x="43.4" fill="#131722" textLength="19.8" lengthAdjust="spacingAndGlyphs">(50,</tspan>
<tspan x="67.5" fill="#131722" textLength="32.3" lengthAdjust="spacingAndGlyphs">close,</tspan>
<tspan x="102.8" fill="#131722" textLength="10.7" lengthAdjust="spacingAndGlyphs">0,</tspan>
<tspan x="117.3" fill="#131722" textLength="25.4" lengthAdjust="spacingAndGlyphs">SMA,</tspan>
<tspan x="146.9" fill="#131722" textLength="10.9" lengthAdjust="spacingAndGlyphs">5)</tspan>
<tspan x="164.4" fill="#f23645" textLength="29.9" lengthAdjust="spacingAndGlyphs">30.81</tspan>
</text>
<text y="591" font-size="12">
<tspan x="17.7" fill="#131722" textLength="16.6" lengthAdjust="spacingAndGlyphs">RSI</tspan>
<tspan x="38.2" fill="#131722" textLength="22.3" lengthAdjust="spacingAndGlyphs">(14,</tspan>
<tspan x="62.4" fill="#131722" textLength="32.6" lengthAdjust="spacingAndGlyphs">close,</tspan>
<tspan x="96.9" fill="#131722" textLength="27.4" lengthAdjust="spacingAndGlyphs">SMA,</tspan>
<tspan x="127.4" fill="#131722" textLength="16.1" lengthAdjust="spacingAndGlyphs">14,</tspan>
<tspan x="146.9" fill="#131722" textLength="11.6" lengthAdjust="spacingAndGlyphs">2)</tspan>
<tspan x="165.7" fill="#a352c2" textLength="29.8" lengthAdjust="spacingAndGlyphs">85.19</tspan>
<tspan x="203.2" fill="#131722" stroke="#131722" stroke-width="0.35" textLength="8.4" lengthAdjust="spacingAndGlyphs">∅</tspan>
<tspan x="218.2" fill="#131722" stroke="#131722" stroke-width="0.35" textLength="8.4" lengthAdjust="spacingAndGlyphs">∅</tspan>
<tspan x="233.0" fill="#131722" stroke="#131722" stroke-width="0.35" textLength="8.4" lengthAdjust="spacingAndGlyphs">∅</tspan>
<tspan x="248.8" fill="#131722" stroke="#131722" stroke-width="0.35" textLength="8.4" lengthAdjust="spacingAndGlyphs">∅</tspan>
</text>
<g font-size="12" fill="#131722" text-anchor="middle">
<text x="82.5" y="769.5">Dec</text>
<text x="222.9" y="769.5" font-weight="bold">2023</text>
<text x="363.3" y="769.5">Feb</text>
<text x="490.2" y="769.5">Mar</text>
<text x="630.6" y="769.5">Apr</text>
<text x="766.5" y="769.5">May</text>
<text x="906.9" y="769.5">Jun</text>
<text x="1042.8" y="769.5">Jul</text>
<text x="1183.3" y="769.5">Aug</text>
<text x="1323.7" y="769.5">Sep</text>
<text x="1459.6" y="769.5">Oct</text>
<text x="1600.0" y="769.5">Nov</text>
<text x="1735.9" y="769.5">Dec</text>
</g>
<g fill="none" stroke="#8e24aa" stroke-width="1.5" stroke-linecap="round"><path d="M1665.0 556.2A9.7 9.7 0 1 1 1658.4 549.2"/></g>
<path fill="#8e24aa" stroke="#8e24aa" stroke-width="0.5" stroke-linejoin="round" d="M1658.1 553.2L1651.5 558.6L1655.1 558.9L1652.2 564L1659.6 558.3L1655.9 558z"/>
<circle cx="1662.4" cy="551.5" r="2.5" fill="#f23645"/>
<g fill="#131722"><path d="M10 792.2h8v9.6h-4.2v-6.1H10z"/><circle cx="21.1" cy="793.8" r="1.65"/><path d="M24.5 792.2h5.4l-4.2 9.6h-4.6z"/></g>
<text x="33" y="801.8" font-size="13" fill="#131722" textLength="70.4" lengthAdjust="spacingAndGlyphs">TradingView</text>
</svg>
</body></html>
